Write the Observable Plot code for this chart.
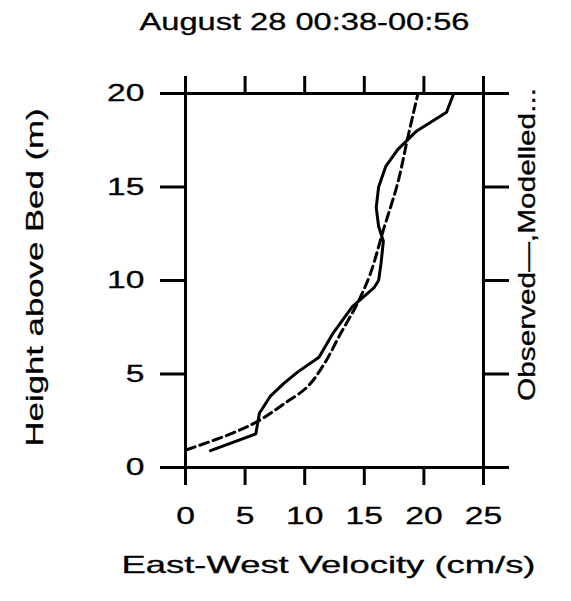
<!DOCTYPE html>
<html><head><meta charset="utf-8">
<script src="https://cdn.jsdelivr.net/npm/d3@7"></script>
<script src="https://cdn.jsdelivr.net/npm/@observablehq/plot@0.6"></script>
<style>body{margin:0;background:#fff}</style>
</head><body><div id="chart"></div>
<script>
const titleText = "August 28 00:38-00:56";
const xLabel = "East-West Velocity (cm/s)";
const yLabel = "Height above Bed (m)";
const rightLabel = "Observed\u2014,Modelled...";
const xTicks = [0, 5, 10, 15, 20, 25];
const yTicks = [0, 5, 10, 15, 20];

// Observed (solid)
const observedVel = [2.1, 5.9, 6.2, 7.1, 8.25, 9.4, 11.2, 12.4, 14.0, 15.8, 16.2, 16.4, 16.6, 16.2, 16.0, 16.2, 16.8, 17.8, 19.4, 21.9, 22.5];
const observedHt  = [0.9, 1.8, 2.9, 3.8, 4.5, 5.1, 5.9, 7.2, 8.6, 9.6, 10.0, 10.9, 12.1, 12.9, 13.9, 15.0, 16.1, 17.0, 18.0, 19.0, 20.0];
// Modelled (dashed)
const modelVel = [0.1, 3.8, 6.15, 8.25, 10.2, 11.6, 13.0, 14.4, 15.5, 16.6, 17.8, 18.6, 19.5];
const modelHt  = [0.95, 1.8, 2.5, 3.4, 4.3, 5.5, 7.15, 8.75, 10.35, 12.7, 15.2, 17.5, 20.0];

const observed = observedVel.map((v, i) => ({vel: v, ht: observedHt[i]}));
const modelled = modelVel.map((v, i) => ({vel: v, ht: modelHt[i]}));

const chart = Plot.plot({
  width: 571, height: 601,
  marginLeft: 185, marginRight: 88, marginTop: 93, marginBottom: 134,
  style: {fontFamily: "'Liberation Sans', Arial, Helvetica, sans-serif", fontSize: "24px", background: "#fff", color: "#000"},
  x: {domain: [0, 25]},
  y: {domain: [0, 20]},
  marks: [
    Plot.frame({stroke: "#000", strokeWidth: 3}),
    Plot.axisX({anchor: "bottom", ticks: xTicks, tickSize: 18, tickPadding: 21, strokeWidth: 3, label: null, fontSize: 24}),
    Plot.axisX({anchor: "top", ticks: xTicks, tickSize: 18, tickFormat: () => "", strokeWidth: 3, label: null}),
    Plot.axisY({anchor: "left", ticks: yTicks, tickSize: 25, tickPadding: 16, strokeWidth: 3, label: null, fontSize: 24}),
    Plot.axisY({anchor: "right", ticks: yTicks, tickSize: 25, tickFormat: () => "", strokeWidth: 3, label: null}),
    Plot.line(observed, {x: "vel", y: "ht", stroke: "#000", strokeWidth: 3}),
    Plot.line(modelled, {x: "vel", y: "ht", stroke: "#000", strokeWidth: 3, strokeDasharray: "9,5", curve: "catmull-rom"}),
    Plot.text([titleText], {text: d => d, frameAnchor: "top", textAnchor: "middle", lineAnchor: "middle", dx: -30, dy: -71, fontSize: 24}),
    Plot.text([xLabel], {text: d => d, frameAnchor: "bottom", textAnchor: "middle", lineAnchor: "middle", dx: -6, dy: 98, fontSize: 24}),
    Plot.text([yLabel], {text: d => d, frameAnchor: "left", textAnchor: "middle", lineAnchor: "middle", rotate: -90, dx: -150, dy: -3, fontSize: 24}),
    Plot.text([rightLabel], {text: d => d, frameAnchor: "right", textAnchor: "middle", lineAnchor: "middle", rotate: -90, dx: 44, dy: -36, fontSize: 24})
  ]
});
document.getElementById("chart").appendChild(chart);

// the reference uses a wide, slightly heavy face: stretch glyphs along the reading direction
const targetLength = {[titleText]: 330, [xLabel]: 414, [yLabel]: 338, [rightLabel]: 313};
chart.querySelectorAll("text").forEach(t => {
  const s = t.textContent;
  if (!s) return;
  const len = t.getComputedTextLength();
  if (!(len > 0)) return;
  const target = targetLength[s] || len * 1.4;
  t.setAttribute("textLength", target.toFixed(1));
  t.setAttribute("lengthAdjust", "spacingAndGlyphs");
  t.style.stroke = "#000";
  t.style.strokeWidth = "0.3px";
});
</script>
</body></html>
